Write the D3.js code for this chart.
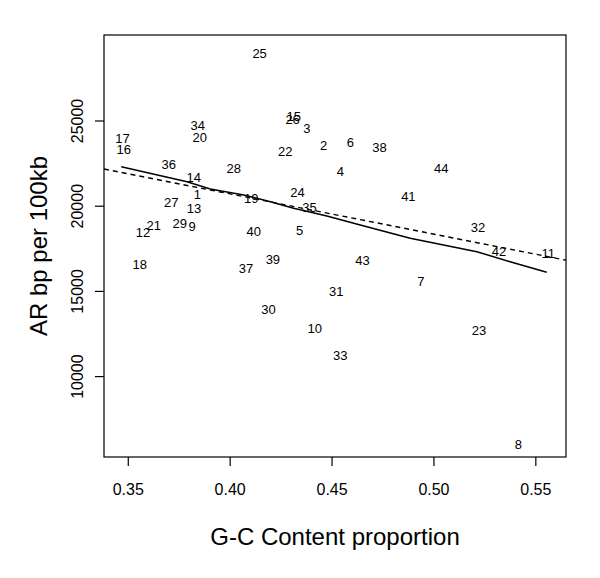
<!DOCTYPE html>
<html>
<head>
<meta charset="utf-8">
<script src="https://cdn.jsdelivr.net/npm/d3@7"></script>
<style>
    body { margin: 0; background: #fff; }
    svg { display: block; font-family: "Liberation Sans", Arial, sans-serif; }
</style>
</head>
<body>
<div id="chart"></div>
<script>
"use strict";

// sample labels and their (G-C proportion, AR bp per 100kb)
const labels = ["1","2","3","4","5","6","7","8","9","10","11","12","13","14","15","16","17","18","19","20","21","22",
    "23","24","25","26","27","28","29","30","31","32","33","34","35","36","37","38","39","40","41","42","43","44"];
const gcContent = [0.3842, 0.4461, 0.4379, 0.4543, 0.4343, 0.4592, 0.4938, 0.5417, 0.3816, 0.4417, 0.5564,
    0.3575, 0.3825, 0.3824, 0.4314, 0.3480, 0.3474, 0.3559, 0.4106, 0.3853, 0.3627, 0.4273,
    0.5224, 0.4333, 0.4147, 0.4309, 0.3713, 0.4020, 0.3755, 0.4191, 0.4523, 0.5219, 0.4543,
    0.3843, 0.4392, 0.3701, 0.4080, 0.4735, 0.4212, 0.4118, 0.4877, 0.5322, 0.4652, 0.5038];
const arBp = [20630, 23560, 24540, 22000, 18570, 23700, 15540, 6000, 18770, 12800, 17210,
    18440, 19820, 21640, 25220, 23310, 23915, 16520, 20420, 24010, 18830, 23170,
    12700, 20790, 28940, 25070, 20180, 22170, 18970, 13880, 14990, 18750, 11180,
    24680, 19910, 22390, 16330, 23400, 16860, 18470, 20530, 17340, 16770, 22200];

// smoothed (lowess) curve
const smoothX = [0.3468, 0.3791, 0.3905, 0.4069, 0.4200, 0.4314, 0.4477, 0.4641, 0.4886, 0.5213, 0.5376, 0.5556];
const smoothY = [22289, 21409, 20980, 20628, 20235, 19847, 19395, 18867, 18087, 17300, 16713, 16091];

// linear fit: intercept, slope
const fitLine = [30136, -23600];

const xTicks = [0.35, 0.40, 0.45, 0.50, 0.55];
const yTicks = [10000, 15000, 20000, 25000];

(function () {
    const width = 600, height = 578;
    const mLeft = 104, mRight = 566, mTop = 35, mBottom = 457;

    const svg = d3.select("#chart").append("svg")
        .attr("width", width)
        .attr("height", height);

    const x = d3.scaleLinear().domain([0.33833, 0.56505]).range([mLeft, mRight]);
    const y = d3.scaleLinear().domain([5252, 30018]).range([mBottom, mTop]);

    svg.append("defs").append("clipPath").attr("id", "plot-clip")
        .append("rect")
        .attr("x", mLeft).attr("y", mTop)
        .attr("width", mRight - mLeft).attr("height", mBottom - mTop);

    // box
    svg.append("rect")
        .attr("x", mLeft).attr("y", mTop)
        .attr("width", mRight - mLeft).attr("height", mBottom - mTop)
        .attr("fill", "none")
        .attr("stroke", "#000")
        .attr("stroke-width", 1.2);

    // x axis
    const xAxis = d3.axisBottom(x)
        .tickValues(xTicks)
        .tickFormat(d3.format(".2f"))
        .tickSize(9)
        .tickPadding(18);

    const gx = svg.append("g")
        .attr("transform", `translate(0,${mBottom})`)
        .call(xAxis);
    gx.select(".domain").remove();
    gx.selectAll("line").attr("stroke-width", 1.2);
    gx.selectAll("text").attr("font-size", 16).attr("fill", "#000");

    // y axis, labels parallel to the axis
    const yAxis = d3.axisLeft(y)
        .tickValues(yTicks)
        .tickFormat(d3.format("d"))
        .tickSize(9);

    const gy = svg.append("g")
        .attr("transform", `translate(${mLeft},0)`)
        .call(yAxis);
    gy.select(".domain").remove();
    gy.selectAll("line").attr("stroke-width", 1.2);
    gy.selectAll("text")
        .attr("font-size", 16)
        .attr("fill", "#000")
        .attr("x", null).attr("dy", null)
        .attr("text-anchor", "middle")
        .attr("dominant-baseline", "central")
        .attr("transform", "translate(-27,0) rotate(-90)");

    // axis titles
    svg.append("text")
        .attr("x", (mLeft + mRight) / 2)
        .attr("y", 536)
        .attr("text-anchor", "middle")
        .attr("dominant-baseline", "central")
        .attr("font-size", 24)
        .text("G-C Content proportion");

    svg.append("text")
        .attr("transform", `translate(38,${(mTop + mBottom) / 2}) rotate(-90)`)
        .attr("text-anchor", "middle")
        .attr("dominant-baseline", "central")
        .attr("font-size", 24)
        .text("AR bp per 100kb");

    const plot = svg.append("g").attr("clip-path", "url(#plot-clip)");

    // linear fit (dashed)
    const xd = x.domain();
    plot.append("line")
        .attr("x1", x(xd[0])).attr("y1", y(fitLine[0] + fitLine[1] * xd[0]))
        .attr("x2", x(xd[1])).attr("y2", y(fitLine[0] + fitLine[1] * xd[1]))
        .attr("stroke", "#000")
        .attr("stroke-width", 1.4)
        .attr("stroke-dasharray", "5,4");

    // smooth (solid)
    const line = d3.line()
        .x((d, i) => x(smoothX[i]))
        .y(d => y(d));

    plot.append("path")
        .attr("d", line(smoothY))
        .attr("fill", "none")
        .attr("stroke", "#000")
        .attr("stroke-width", 1.5);

    // point labels
    plot.selectAll("text.pt")
        .data(labels)
        .enter()
        .append("text")
        .attr("class", "pt")
        .attr("x", (d, i) => x(gcContent[i]))
        .attr("y", (d, i) => y(arBp[i]))
        .attr("text-anchor", "middle")
        .attr("dominant-baseline", "central")
        .attr("font-size", 13)
        .attr("fill", "#000")
        .text(d => d);
})();
</script>
</body>
</html>
